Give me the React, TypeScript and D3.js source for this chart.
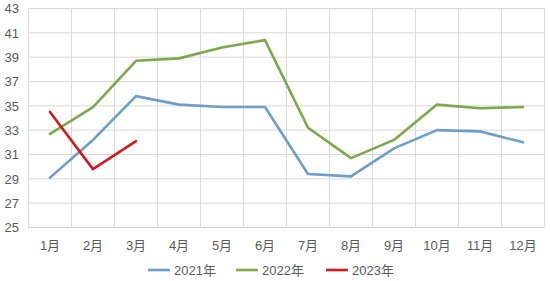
import React from "react";
import * as d3 from "d3";

const months = ["1月", "2月", "3月", "4月", "5月", "6月", "7月", "8月", "9月", "10月", "11月", "12月"];
const s2021 = [29.1, 32.2, 35.8, 35.1, 34.9, 34.9, 29.4, 29.2, 31.5, 33.0, 32.9, 32.0];
const s2022 = [32.7, 34.9, 38.7, 38.9, 39.8, 40.4, 33.2, 30.7, 32.2, 35.1, 34.8, 34.9];
const s2023 = [34.5, 29.8, 32.1];
const yTicks = [25, 27, 29, 31, 33, 35, 37, 39, 41, 43];
const seriesNames = ["2021年", "2022年", "2023年"];
const colors = ["#6C9DCB", "#7BA94C", "#D21A1F"];

export default function App() {
  const W = 550, H = 281;
  const left = 28.5, right = 544.5, top = 8.5, bottom = 227.5;
  const x = d3.scaleBand<string>().domain(months).range([left, right]);
  const y = d3.scaleLinear().domain([25, 43]).range([bottom, top]);
  const line = d3.line<number>()
    .x((_, i) => (x(months[i]) as number) + x.bandwidth() / 2)
    .y((d) => y(d));
  const data = [s2021, s2022, s2023];
  const font = "'Liberation Sans', 'Noto Sans CJK SC', sans-serif";
  const legendX = [148, 236, 326];
  return (
    <svg width={W} height={H} style={{ position: "absolute", left: 0, top: 0, background: "#fff" }}>
      <rect x={0} y={0} width={W} height={H} fill="#fff" />
      {yTicks.map((t) => (
        <line key={"h" + t} x1={left} x2={right} y1={y(t)} y2={y(t)} stroke={t === 25 ? "#D0D0D0" : "#D9D9D9"} strokeWidth={1} />
      ))}
      {d3.range(months.length + 1).map((i) => {
        const xx = left + i * x.bandwidth();
        return <line key={"v" + i} x1={xx} x2={xx} y1={top} y2={bottom} stroke="#D9D9D9" strokeWidth={1} />;
      })}
      {yTicks.map((t) => (
        <text key={"yt" + t} x={19} y={y(t)} dy="0.36em" textAnchor="end" fontSize={13} fill="#595959" fontFamily={font}>{t}</text>
      ))}
      {months.map((m) => (
        <text key={"xt" + m} x={(x(m) as number) + x.bandwidth() / 2} y={245} dy="0.36em" textAnchor="middle" fontSize={13} fill="#595959" fontFamily={font}>{m}</text>
      ))}
      {data.map((s, i) => (
        <path key={"p" + i} d={line(s) || ""} fill="none" stroke={colors[i]} strokeWidth={2.6} strokeLinejoin="round" strokeLinecap="round" />
      ))}
      {seriesNames.map((n, i) => (
        <g key={"lg" + i}>
          <line x1={legendX[i]} x2={legendX[i] + 22} y1={270} y2={270} stroke={colors[i]} strokeWidth={2.6} />
          <text x={legendX[i] + 26} y={270} dy="0.36em" fontSize={13} fill="#595959" fontFamily={font}>{n}</text>
        </g>
      ))}
    </svg>
  );
}
